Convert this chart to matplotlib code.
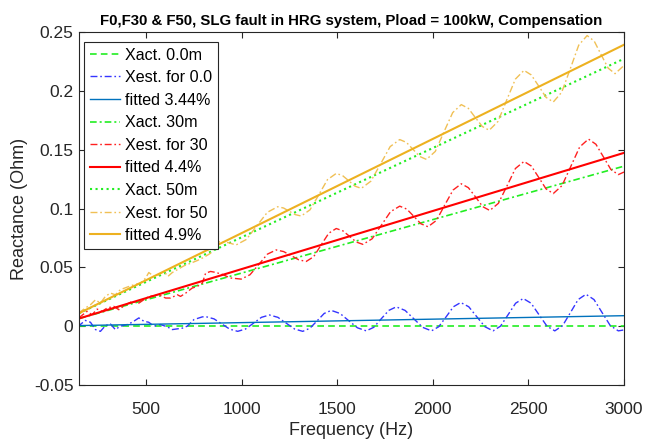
import matplotlib
matplotlib.use("Agg")
import matplotlib.pyplot as plt

plt.rcParams['font.family'] = ['Liberation Sans', 'DejaVu Sans']

# straight lines: read at the two ends of the axis
f_ends = [150, 3000]
xact_0 = [0.0, 0.0]
fit_0 = [0.0005, 0.0089]
xact_30 = [0.0065, 0.136]
fit_30 = [0.0065, 0.1473]
xact_50 = [0.011, 0.2273]
fit_50 = [0.011, 0.2392]

# Xest for 0.0
f_est0 = [140, 157, 183, 210, 236, 262, 288, 314, 340, 366, 402, 428, 463, 489, 515, 541,
          576, 612, 638, 664, 690, 716, 751, 795, 815, 856, 897, 939, 980, 1021, 1063, 1104,
          1146, 1190, 1233, 1277, 1320, 1357, 1395, 1432, 1469, 1515, 1560, 1606, 1652, 1691,
          1730, 1770, 1809, 1855, 1901, 1947, 1993, 2031, 2070, 2108, 2146, 2188, 2230, 2273,
          2315, 2354, 2394, 2433, 2473, 2514, 2555, 2597, 2638, 2679, 2720, 2760, 2801, 2843,
          2885, 2928, 2970, 3000]
x_est0 = [0.0, 0.0014, 0.0049, 0.0033, -0.0029, -0.0044, 0.0004, 0.0019, -0.0029, 0.0, 0.0014,
          0.0033, 0.0070, 0.0042, 0.0033, 0.0, 0.0014, -0.0006, -0.0029, -0.0023, -0.0017, 0.0,
          0.0056, 0.0079, 0.008, 0.0062, 0.0018, -0.0026, -0.0044, -0.0024, 0.0026, 0.0075,
          0.0095, 0.0075, 0.0026, -0.0024, -0.0044, -0.0018, 0.0045, 0.0108, 0.0134, 0.0108,
          0.0047, -0.0014, -0.004, -0.001, 0.0062, 0.0134, 0.0164, 0.0134, 0.0062, -0.001,
          -0.004, -0.0005, 0.008, 0.0165, 0.0201, 0.0165, 0.008, -0.0005, -0.004, 0.0, 0.0098,
          0.0195, 0.0235, 0.0195, 0.0098, 0.0, -0.004, 0.0005, 0.0116, 0.0226, 0.0271, 0.0226,
          0.0116, 0.0005, -0.004, -0.0032]

# Xest for 30
f_est30 = [148, 192, 218, 245, 271, 297, 332, 358, 393, 428, 463, 489, 515, 541, 568, 603,
           629, 664, 681, 708, 742, 769, 795, 812, 838, 864, 900, 940, 998, 1044, 1090, 1135,
           1181, 1220, 1260, 1299, 1338, 1377, 1416, 1456, 1495, 1530, 1565, 1600, 1635, 1683,
           1731, 1779, 1827, 1864, 1901, 1938, 1975, 2019, 2062, 2106, 2149, 2186, 2224, 2261,
           2298, 2343, 2388, 2432, 2477, 2515, 2554, 2592, 2630, 2676, 2722, 2768, 2814, 2853,
           2892, 2931, 2970, 3000]
x_est30 = [0.0069, 0.0126, 0.0097, 0.0145, 0.0126, 0.0154, 0.0168, 0.014, 0.0182, 0.021,
           0.0196, 0.0225, 0.0253, 0.0258, 0.0267, 0.0239, 0.0239, 0.0267, 0.0253, 0.0281,
           0.0324, 0.0338, 0.0366, 0.045, 0.0465, 0.0457, 0.044, 0.041, 0.040, 0.0437, 0.0524,
           0.0612, 0.0648, 0.0634, 0.0599, 0.0564, 0.055, 0.059, 0.069, 0.079, 0.083, 0.081,
           0.0763, 0.0715, 0.0695, 0.0743, 0.0858, 0.0973, 0.102, 0.0995, 0.0933, 0.087,
           0.0845, 0.0899, 0.1028, 0.1157, 0.121, 0.1177, 0.1097, 0.1016, 0.0983, 0.1044,
           0.1192, 0.134, 0.140, 0.1361, 0.1264, 0.1167, 0.1127, 0.1195, 0.1359, 0.1523, 0.159,
           0.1546, 0.1439, 0.1332, 0.1288, 0.131]

# Xest for 50
f_est50 = [148, 183, 210, 236, 262, 288, 314, 340, 366, 402, 437, 472, 498, 515, 541, 568,
           594, 615, 638, 664, 699, 734, 769, 804, 838, 884, 930, 971, 1025, 1080, 1135, 1189,
           1220, 1250, 1281, 1312, 1358, 1404, 1449, 1495, 1528, 1561, 1593, 1626, 1676, 1727,
           1777, 1827, 1862, 1897, 1932, 1967, 2013, 2058, 2104, 2149, 2186, 2222, 2259, 2295,
           2341, 2386, 2432, 2477, 2515, 2554, 2592, 2630, 2674, 2719, 2763, 2807, 2844, 2880,
           2917, 2953, 3000]
x_est50 = [0.0111, 0.0154, 0.0182, 0.0224, 0.0196, 0.0253, 0.0281, 0.0267, 0.031, 0.0332,
           0.0352, 0.0366, 0.0408, 0.0456, 0.0423, 0.0437, 0.0465, 0.0423, 0.0456, 0.048,
           0.0513, 0.0535, 0.0558, 0.0586, 0.062, 0.0719, 0.071, 0.069, 0.0737, 0.0853, 0.0968,
           0.1015, 0.1004, 0.0976, 0.0948, 0.0936, 0.0989, 0.1117, 0.1245, 0.1298, 0.128,
           0.1235, 0.119, 0.1171, 0.1232, 0.1379, 0.1526, 0.1586, 0.1562, 0.1502, 0.1442,
           0.1417, 0.1485, 0.165, 0.1815, 0.1883, 0.1851, 0.1774, 0.1697, 0.1665, 0.174, 0.192,
           0.210, 0.2174, 0.2135, 0.204, 0.1945, 0.1905, 0.1988, 0.2188, 0.2388, 0.247, 0.2423,
           0.2308, 0.2193, 0.2146, 0.2216]

green = '#22ee22'
orange = '#EDB120'
dark = '#262626'
dashdot = (5, 2, 1.2, 2)

fig = plt.figure(figsize=(6.46, 4.41), dpi=100)
ax = fig.add_axes([0.1223, 0.127, 0.8437, 0.8004])

ax.plot(f_ends, xact_0, color=green, lw=1.2, dashes=(4, 2.5), label='Xact. 0.0m')
ax.plot(f_est0, x_est0, color='#3535ff', lw=1.0, dashes=dashdot, label='Xest. for 0.0')
ax.plot(f_ends, fit_0, '-', color='#0072BD', lw=1.0, label='fitted 3.44%')
ax.plot(f_ends, xact_30, color=green, lw=1.2, dashes=(4, 1.8, 1.2, 1.8), label='Xact. 30m')
ax.plot(f_est30, x_est30, color='#ff2020', lw=1.0, dashes=dashdot, label='Xest. for 30')
ax.plot(f_ends, fit_30, '-', color='#ff0000', lw=1.5, label='fitted 4.4%')
ax.plot(f_ends, xact_50, ':', color=green, lw=1.5, label='Xact. 50m')
ax.plot(f_est50, x_est50, color='#f0c055', lw=1.0, dashes=dashdot, label='Xest. for 50')
ax.plot(f_ends, fit_50, '-', color=orange, lw=1.5, label='fitted 4.9%')

ax.set_xlim(150, 3000)
ax.set_ylim(-0.05, 0.25)
ax.set_xticks([500, 1000, 1500, 2000, 2500, 3000])
ax.set_yticks([-0.05, 0, 0.05, 0.1, 0.15, 0.2, 0.25])
ax.set_yticklabels(['-0.05', '0', '0.05', '0.1', '0.15', '0.2', '0.25'])
ax.tick_params(direction='in', top=True, right=True, length=4, width=0.8,
               colors=dark, labelsize=12.5)
ax.tick_params(axis='x', pad=12)
ax.tick_params(axis='y', pad=4)
for s in ax.spines.values():
    s.set_color(dark)
    s.set_linewidth(0.8)

ax.set_xlabel('Frequency (Hz)', fontsize=13, color=dark, labelpad=4)
ax.set_ylabel('Reactance (Ohm)', fontsize=13, color=dark, labelpad=4)
ax.set_title('F0,F30 & F50, SLG fault in HRG system, Pload = 100kW, Compensation',
             fontsize=10.8, fontweight='bold', color='black', pad=5)

leg = ax.legend(loc='upper left', bbox_to_anchor=(0.009, 0.972), fontsize=11.6,
                handlelength=1.9, handletextpad=0.3, labelspacing=0.47, borderpad=0.35,
                borderaxespad=0, fancybox=False, framealpha=1, edgecolor=dark)
leg.get_frame().set_linewidth(0.8)

fig.savefig('out.png', dpi=100)
